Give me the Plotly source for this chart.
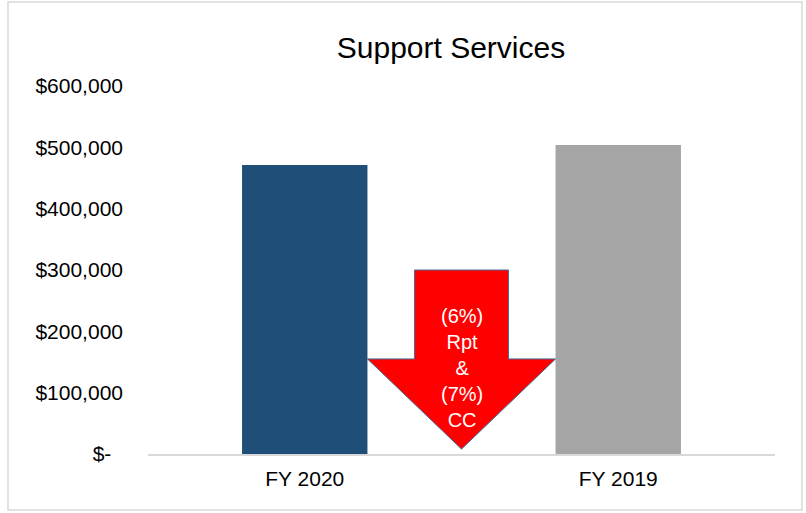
import plotly.graph_objects as go

# Data
categories = ["FY 2020", "FY 2019"]
values = [471000, 504000]
bar_colors = ["#1F4E79", "#A5A5A5"]
tick_vals = [0, 100000, 200000, 300000, 400000, 500000, 600000]
tick_text = ["$-\u00a0\u00a0", "$100,000", "$200,000", "$300,000", "$400,000", "$500,000", "$600,000"]
title_text = "Support Services"
arrow_lines = ["(6%)", "Rpt", "&", "(7%)", "CC"]

# Arrow geometry (data units)
arrow_stem_top = 300000
arrow_head_base = 155000
arrow_tip = 8000
arrow_stem_half = 0.15
arrow_head_half = 0.30
arrow_mid = 0.5
arrow_text_y = 140000

FONT = "Liberation Sans, Arial, sans-serif"

fig = go.Figure()
fig.add_trace(go.Bar(
    x=categories, y=values, marker=dict(color=bar_colors, line=dict(width=0)),
    showlegend=False, hoverinfo="skip",
))

m = arrow_mid
path = (f"M {m-arrow_stem_half},{arrow_stem_top} L {m+arrow_stem_half},{arrow_stem_top} "
        f"L {m+arrow_stem_half},{arrow_head_base} L {m+arrow_head_half},{arrow_head_base} "
        f"L {m},{arrow_tip} L {m-arrow_head_half},{arrow_head_base} "
        f"L {m-arrow_stem_half},{arrow_head_base} Z")
fig.add_shape(type="path", path=path, xref="x", yref="y",
              fillcolor="#FF0000", line=dict(color="#41719C", width=1), layer="above")

fig.add_annotation(x=m, y=arrow_text_y, xref="x", yref="y", text="<br>".join(arrow_lines),
                   showarrow=False, font=dict(family=FONT, size=20, color="white"),
                   align="center")

# chart border
fig.add_shape(type="rect", xref="paper", yref="paper", x0=-0.2233, x1=1.043, y0=-0.152, y1=1.228,
              line=dict(color="#D9D9D9", width=1.5), fillcolor="rgba(0,0,0,0)", layer="below")

fig.update_layout(
    width=806, height=513,
    margin=dict(l=148, r=31, t=86, b=59),
    paper_bgcolor="white", plot_bgcolor="white",
    bargap=0.6,
    title=dict(text=title_text, x=451/806, xanchor="center", xref="container",
               y=1-47.5/513, yanchor="middle", yref="container",
               font=dict(family=FONT, size=30, color="black")),
    font=dict(family=FONT, size=21, color="black"),
    xaxis=dict(showgrid=False, showline=True, linecolor="#D9D9D9", linewidth=1.5,
               ticks="", ticklabelstandoff=5, tickfont=dict(size=21)),
    yaxis=dict(range=[0, 600000], tickvals=tick_vals, ticktext=tick_text, showgrid=False,
               showline=False, zeroline=False, ticks="", ticklabelstandoff=24,
               tickfont=dict(size=21)),
)

fig.write_html("out.html", config={"displayModeBar": False},
               post_script="document.body.style.margin='0px';")
